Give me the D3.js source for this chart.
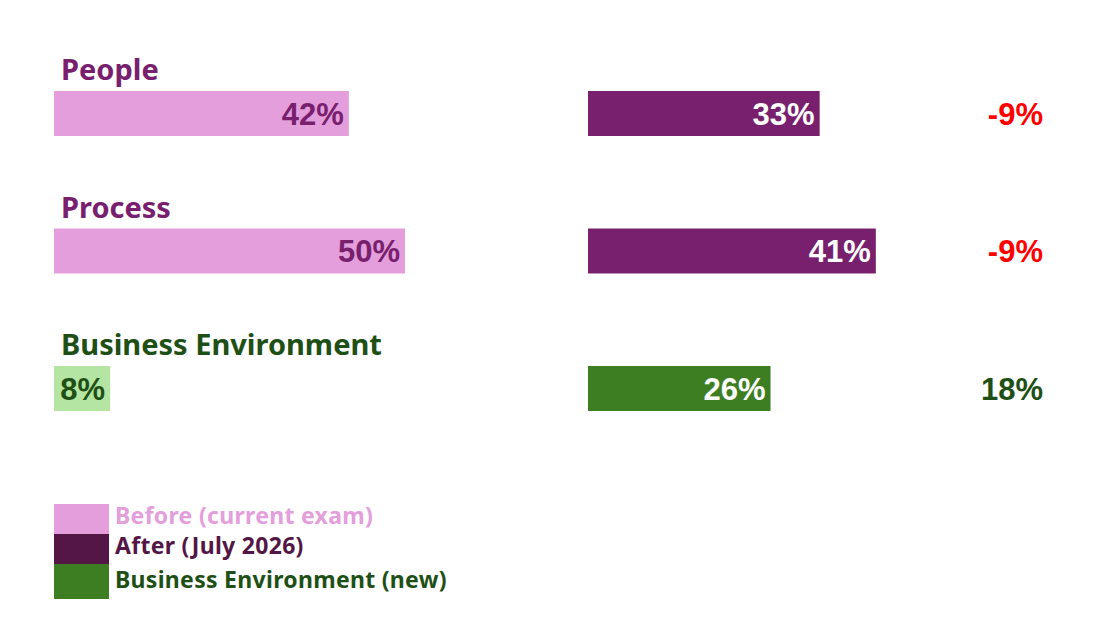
<!DOCTYPE html>
<html>
<head>
<meta charset="utf-8">
<script src="https://cdn.jsdelivr.net/npm/d3@7"></script>
<style>
  body { margin: 0; background: #fff; }
  svg { display: block; }
</style>
</head>
<body>
<div id="chart"></div>
<script>
// data
var categories = ["People", "Process", "Business Environment"];
var beforeValues = [42, 50, 8];
var afterValues = [33, 41, 26];
var diffLabels = ["-9%", "-9%", "18%"];
var legendLabels = ["Before (current exam)", "After (July 2026)", "Business Environment (new)"];

var width = 1094, height = 644;

var svg = d3.select("#chart")
  .append("svg")
  .attr("width", width)
  .attr("height", height);

// colours per category: heading, before bar, before text, after bar
var headColor = ["#78206e", "#78206e", "#1e5016"];
var beforeFill = ["#e39edb", "#e39edb", "#b4e5a2"];
var beforeText = ["#78206e", "#78206e", "#1e5016"];
var afterFill = ["#78206e", "#78206e", "#3e7e22"];
var diffColor = ["#ff0000", "#ff0000", "#1e5016"];
var legendFill = ["#e39edb", "#541645", "#3e7e22"];
var legendText = ["#e39edb", "#541645", "#1e5016"];

var rows = categories.map(function(c, i) {
  return { cat: c, before: beforeValues[i], after: afterValues[i], diff: diffLabels[i], i: i };
});

var y = d3.scaleBand()
  .domain(categories)
  .range([45, 45 + 137.5 * categories.length]);

var x = d3.scaleLinear()
  .domain([0, 100])
  .range([0, 702]);

var beforeX0 = 54, afterX0 = 588, diffX = 1043;
var barH = 45;
var valueFont = "'Liberation Sans', Arial, sans-serif";
var headFont = "'Noto Sans', sans-serif";

var g = svg.selectAll("g.row")
  .data(rows)
  .enter()
  .append("g")
  .attr("class", "row")
  .attr("transform", function(d) { return "translate(0," + y(d.cat) + ")"; });

// category headings
g.append("text")
  .attr("x", 61)
  .attr("y", 35)
  .attr("font-family", headFont)
  .attr("font-weight", 700)
  .attr("font-size", 29)
  .attr("fill", function(d) { return headColor[d.i]; })
  .text(function(d) { return d.cat; });

// before bars
g.append("rect")
  .attr("x", beforeX0)
  .attr("y", 46)
  .attr("width", function(d) { return x(d.before); })
  .attr("height", barH)
  .attr("fill", function(d) { return beforeFill[d.i]; });

g.append("text")
  .attr("x", function(d) { return beforeX0 + x(d.before) - 5; })
  .attr("y", 46 + barH / 2 + 11)
  .attr("text-anchor", "end")
  .attr("font-family", valueFont)
  .attr("font-weight", 700)
  .attr("font-size", 31)
  .attr("fill", function(d) { return beforeText[d.i]; })
  .text(function(d) { return d.before + "%"; });

// after bars
g.append("rect")
  .attr("x", afterX0)
  .attr("y", 46)
  .attr("width", function(d) { return x(d.after); })
  .attr("height", barH)
  .attr("fill", function(d) { return afterFill[d.i]; });

g.append("text")
  .attr("x", function(d) { return afterX0 + x(d.after) - 5; })
  .attr("y", 46 + barH / 2 + 11)
  .attr("text-anchor", "end")
  .attr("font-family", valueFont)
  .attr("font-weight", 700)
  .attr("font-size", 31)
  .attr("fill", "#ffffff")
  .text(function(d) { return d.after + "%"; });

// change labels
g.append("text")
  .attr("x", diffX)
  .attr("y", 46 + barH / 2 + 11)
  .attr("text-anchor", "end")
  .attr("font-family", valueFont)
  .attr("font-weight", 700)
  .attr("font-size", 31)
  .attr("fill", function(d) { return diffColor[d.i]; })
  .text(function(d) { return d.diff; });

// legend
var ly = d3.scaleBand()
  .domain(legendLabels)
  .range([504, 594]);

var lg = svg.selectAll("g.legend")
  .data(legendLabels)
  .enter()
  .append("g")
  .attr("class", "legend")
  .attr("transform", function(d) { return "translate(0," + ly(d) + ")"; });

lg.append("rect")
  .attr("x", 54)
  .attr("y", 0)
  .attr("width", 55)
  .attr("height", function(d, i) { return i === 2 ? ly.bandwidth() + 5 : ly.bandwidth(); })
  .attr("fill", function(d, i) { return legendFill[i]; });

lg.append("text")
  .attr("x", 115)
  .attr("y", function(d, i) { return i === 2 ? 24 : 20; })
  .attr("font-family", headFont)
  .attr("font-weight", 700)
  .attr("font-size", 23)
  .attr("letter-spacing", 0.3)
  .attr("fill", function(d, i) { return legendText[i]; })
  .text(function(d) { return d; });
</script>
</body>
</html>
